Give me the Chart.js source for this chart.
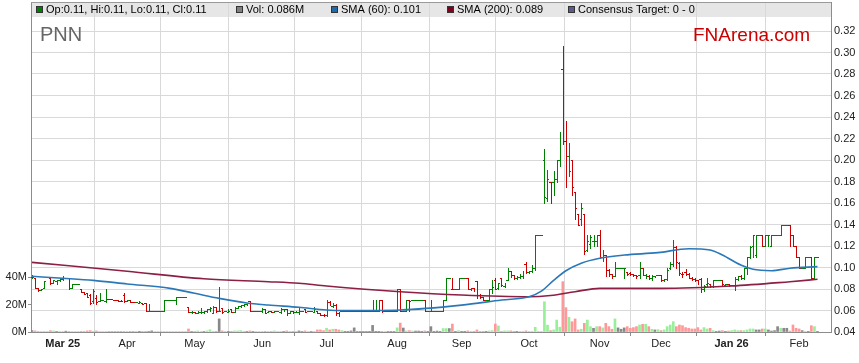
<!DOCTYPE html>
<html><head><meta charset="utf-8">
<script src="https://cdn.jsdelivr.net/npm/chart.js@4.4.1/dist/chart.umd.min.js"></script>
<style>html,body{margin:0;padding:0;background:#fff;}canvas{display:block;background:#fff;}</style>
</head><body>
<canvas id="c" width="859" height="363"></canvas>
<script>
// ---------- DATA ----------
const ticker = 'PNN';
const monthTickIdx = [10,31,53,75,96,119,140,162,185,205,228,250];
const monthTickLabels = ['Mar 25','Apr','May','Jun','Jul','Aug','Sep','Oct','Nov','Dec','Jan 26','Feb'];
const priceTicks = [0.04,0.06,0.08,0.10,0.12,0.14,0.16,0.18,0.20,0.22,0.24,0.26,0.28,0.30,0.32];
const volTicks = [0,20,40];

const open = [
.091,.090,.081,.079,.081,null,.090,.086,.087,.088,
.089,.090,.090,.081,.085,.085,.080,.077,.076,.074,
.069,.072,.069,.070,.069,.071,.0705,.070,.070,.069,
.074,.069,.070,.068,.068,.067,.067,.067,.060,.060,
.060,.060,.060,.060,.070,.070,.070,.070,.073,.073,
.073,.063,.059,.059,.058,.059,.059,.060,.061,.058,
.063,.060,.062,.060,.059,.061,.059,.062,.064,.065,
.066,.069,.060,.060,.060,.060,.061,.059,.060,.059,
.060,.059,.061,.061,.058,.060,.059,.059,.060,.061,
.060,.060,.059,.060,.058,.056,.056,.068,.064,.065,
.058,.060,.060,.060,.060,.060,.060,.060,.060,.060,
.060,.060,.060,.060,.070,.060,.060,.060,.060,.060,
.080,.060,.060,.070,.070,.070,.070,.070,.070,.060,
.060,.060,.060,.060,.060,.070,.090,.080,.080,.080,
.090,.090,.090,.080,.081,.087,.074,.073,.070,.070,
.080,.088,.081,.090,.083,.088,.097,.093,.090,.091,
.092,.103,.096,.097,.100,.130,.130,.200,.165,.180,
.180,.182,.200,.285,.218,.204,.200,.170,.150,.145,
.150,.116,.122,.125,.125,.130,.110,.112,.098,.094,
.092,.100,.100,.100,.096,.095,.094,.093,.093,.100,
.093,.092,.090,.092,.093,.093,.088,.089,.100,.103,
.119,.104,.094,.096,.094,.090,.089,.088,.089,.080,
.085,.085,.083,.088,.088,.088,.084,.085,.084,.084,
.089,.092,.090,.100,.110,.120,.112,.130,.130,.120,
.130,.120,.130,.130,.130,.140,.140,.140,.130,.120,
.110,.100,.100,.110,.110,.090,.110];
const high = [
.093,.090,.081,.080,.087,null,.090,.088,.088,.090,
.092,.090,.090,.085,.085,.085,.080,.077,.076,.075,
.080,.074,.076,.070,.080,.071,.0705,.070,.070,.070,
.076,.070,.070,.068,.068,.069,.067,.067,.066,.060,
.060,.060,.060,.070,.070,.070,.070,.073,.073,.073,
.073,.063,.060,.059,.060,.062,.060,.061,.063,.064,
.063,.082,.062,.060,.061,.061,.063,.064,.065,.066,
.066,.069,.060,.060,.060,.062,.061,.060,.060,.060,
.060,.062,.061,.061,.060,.060,.060,.062,.060,.061,
.060,.060,.063,.060,.058,.057,.070,.069,.067,.066,
.059,.060,.060,.060,.060,.060,.060,.060,.060,.060,
.060,.070,.070,.070,.070,.060,.060,.060,.060,.080,
.080,.060,.070,.070,.070,.070,.070,.070,.070,.060,
.070,.060,.060,.060,.070,.090,.090,.090,.080,.090,
.090,.090,.090,.081,.081,.087,.075,.073,.070,.080,
.088,.090,.086,.090,.086,.100,.097,.093,.092,.094,
.097,.105,.097,.102,.130,.130,.130,.210,.191,.180,
.190,.200,.226,.306,.236,.216,.200,.170,.150,.160,
.150,.130,.130,.130,.130,.135,.116,.112,.099,.094,
.105,.100,.100,.100,.096,.096,.094,.093,.105,.100,
.094,.093,.093,.092,.093,.093,.089,.100,.105,.126,
.120,.105,.096,.099,.095,.091,.090,.088,.090,.084,
.090,.085,.088,.088,.088,.088,.085,.085,.084,.091,
.092,.093,.100,.110,.120,.130,.130,.130,.130,.130,
.130,.130,.130,.130,.140,.140,.140,.140,.130,.120,
.110,.100,.110,.110,.110,.110,.110];
const low = [
.090,.081,.078,.079,.081,null,.085,.086,.085,.087,
.088,.090,.080,.081,.085,.085,.077,.075,.073,.066,
.067,.066,.069,.070,.068,.071,.0705,.070,.069,.069,
.068,.069,.068,.0675,.068,.067,.066,.060,.060,.060,
.060,.060,.060,.060,.070,.070,.070,.066,.073,.073,
.073,.059,.058,.058,.058,.058,.058,.059,.060,.058,
.059,.060,.058,.060,.059,.059,.059,.062,.063,.064,
.065,.060,.060,.060,.060,.059,.058,.059,.059,.059,
.060,.058,.060,.056,.058,.058,.059,.057,.060,.059,
.060,.060,.059,.058,.056,.055,.055,.065,.063,.056,
.055,.060,.060,.060,.060,.060,.060,.060,.060,.060,
.060,.060,.060,.060,.059,.060,.060,.060,.060,.060,
.060,.060,.060,.060,.070,.070,.070,.070,.060,.060,
.060,.060,.060,.060,.060,.070,.090,.080,.080,.080,
.090,.090,.080,.079,.078,.072,.072,.070,.070,.070,
.076,.080,.080,.083,.082,.088,.091,.089,.089,.090,
.090,.095,.095,.096,.098,.130,.130,.160,.162,.160,
.167,.180,.194,.215,.175,.185,.167,.145,.140,.140,
.113,.115,.118,.120,.120,.109,.106,.092,.092,.090,
.092,.100,.100,.090,.093,.093,.092,.090,.090,.093,
.090,.089,.088,.091,.093,.087,.087,.088,.099,.101,
.100,.093,.091,.093,.090,.088,.087,.085,.077,.078,
.083,.082,.082,.088,.088,.083,.083,.083,.084,.079,
.088,.089,.089,.094,.109,.110,.110,.130,.120,.120,
.120,.120,.130,.130,.130,.140,.140,.120,.120,.110,
.100,.100,.100,.110,.090,.090,.110];
const close = [
.091,.081,.079,.080,.087,null,.086,.088,.088,.089,
.090,.090,.081,.085,.085,.085,.077,.075,.073,.067,
.078,.068,.070,.070,.079,.071,.0705,.070,.0695,.069,
.0685,.070,.068,.0675,.068,.068,.066,.060,.060,.060,
.060,.060,.060,.070,.070,.070,.070,.073,.073,.073,
.073,.059,.059,.058,.059,.060,.060,.061,.062,.063,
.060,.060,.059,.060,.060,.059,.062,.064,.065,.066,
.066,.060,.060,.060,.060,.061,.058,.060,.059,.060,
.060,.061,.061,.057,.060,.059,.060,.060,.060,.059,
.060,.060,.061,.058,.056,.055,.069,.065,.066,.057,
.055,.060,.060,.060,.060,.060,.060,.060,.060,.060,
.060,.060,.060,.060,.0595,.060,.060,.060,.060,.080,
.060,.060,.070,.069,.070,.070,.070,.070,.060,.060,
.060,.060,.060,.060,.070,.090,.090,.080,.080,.090,
.090,.090,.080,.081,.078,.073,.0725,.070,.070,.080,
.082,.080,.086,.084,.085,.098,.094,.091,.091,.093,
.097,.096,.097,.100,.130,.130,.130,.166,.182,.166,
.182,.193,.226,.215,.180,.190,.175,.155,.140,.155,
.115,.125,.128,.128,.129,.110,.115,.095,.093,.0905,
.100,.100,.100,.100,.094,.0935,.093,.092,.094,.093,
.094,.090,.092,.092,.093,.088,.089,.098,.103,.119,
.105,.095,.094,.0935,.091,.089,.088,.086,.080,.083,
.086,.083,.088,.088,.088,.085,.085,.0835,.084,.088,
.091,.0905,.098,.108,.119,.130,.130,.130,.120,.130,
.130,.130,.130,.130,.140,.140,.140,.130,.120,.110,
.100,.100,.110,.110,.090,.110,.110];
// volume in millions of shares
const volume = [
1.0,0.8,0.4,0.3,0.5,0,1.0,0.8,0.3,0.3,
0.4,0.6,0.3,0.3,0,0,0.5,0.4,0.8,1.0,
0.6,0.8,0.3,0,0.3,0.2,0.2,0.2,0.2,0.2,
0.3,0.2,0.2,0.2,0.2,0.2,0.3,0.5,0.3,0.8,
0,0,0,0.3,0,0,0,0.3,0,0,
0,2.2,0.4,0.3,0.8,0.3,0.3,0.8,1.6,0.5,
0.5,9.5,0.8,0.5,0.5,0.5,0.8,0.8,1.0,0.5,
0.3,0.8,0.3,0,0,0.5,0.5,0.3,0.3,0.8,
0,0.5,0.3,0.8,0.5,0.5,0.5,0.8,0.3,0.8,
0.3,0.3,0.5,1.5,1.5,1.0,2.7,1.5,2.0,2.0,
1.5,1.0,0.5,0.5,0.8,3.0,0.3,0.3,0.3,0.3,
0.5,4.8,0.5,0.5,0.5,0.3,0.3,0.3,0.3,3.0,
6.5,2.9,0.8,1.0,0.7,0.7,0.7,0.5,0.8,0.5,
3.9,0.5,0.7,0.5,2.5,2.5,2.5,5.8,0.5,1.0,
0.5,0.5,0.8,0.5,0.5,1.5,0.5,0.5,0.5,0.8,
1.0,5.8,4.4,0.5,0.8,0.8,0.8,0.5,0.5,0.5,
0.5,0.8,0.5,0.5,3.4,0,0,22,5,1,
1.5,8.7,3.5,36.6,17.7,10.7,7.5,9.5,1.5,2,
6.3,8.7,3.9,2.7,3.9,3.9,3.0,6.3,3.9,2,
9.5,3,2,3,3.9,2.7,3.2,3.9,5.1,5.6,
5.6,3.9,2,1.5,1.7,1.0,1.5,3.9,5.1,7.5,
3.9,5.1,4.6,3.2,2.7,2.2,2.2,3.2,1.5,3.2,
2.2,2.7,1.0,0.2,0.7,1.0,0.5,0.7,1.0,1.5,
1.0,1.0,1.0,1.5,2.2,2.2,1.5,1.5,2.2,2.2,
1.5,0.7,1.0,3.9,2.7,2.7,2.7,0.7,5.1,2.7,
2.2,1.0,0.2,0.2,4.6,3.9,0.086];

// moving averages (bar index, value)
const sma60Idx = [0,10,20,31,45,53,61,70,77,87,96,102,120,140,153,162,166,170,174,179,185,193,204,214,221,225,231,235,241,247,256];
const sma60Val = [.0918,.0900,.0880,.0847,.0806,.0760,.0713,.0670,.0651,.0630,.0605,.0600,.0605,.0650,.0698,.0728,.0780,.0880,.0970,.1040,.1086,.1116,.1138,.1175,.1163,.1116,.1023,.0983,.0970,.0993,.1008];
const sma200Idx = [0,31,56,77,87,96,120,140,162,169,177,185,205,228,247,256];
const sma200Val = [.1048,.0965,.0895,.0868,.0853,.0828,.0775,.0744,.0728,.0740,.0775,.0806,.0806,.0828,.0868,.0890];

// ---------- STYLE ----------
const FONT = "'Liberation Sans', Arial, sans-serif";
const UP = '#008000', DOWN = '#cc0000';
const VOL_UP = '#99ee99', VOL_DOWN = '#ff9999', VOL_FLAT = '#888888';
const C_SMA60 = '#2a78b8', C_SMA200 = '#8c1f44';
const AXIS = '#8c8c8c', GRID = '#d9d9d9';

const N = close.length;
const dir = [];
{ let prev = null;
  for (let i = 0; i < N; i++) {
    if (close[i] == null) { dir.push(null); continue; }
    let d = 0;
    if (prev != null) d = close[i] > prev + 1e-9 ? 1 : (close[i] < prev - 1e-9 ? -1 : 0);
    dir.push(d); prev = close[i];
  }
}
const volColors = dir.map(d => d > 0 ? VOL_UP : d < 0 ? VOL_DOWN : VOL_FLAT);

const ohlcPlugin = {
  id: 'ohlc',
  beforeDatasetsDraw(chart) {
    const { ctx, chartArea: a } = chart;
    const x = chart.scales.x, y = chart.scales.y;
    ctx.save();
    ctx.beginPath(); ctx.rect(a.left, a.top, a.right - a.left, a.bottom - a.top); ctx.clip();
    for (let i = 0; i < N; i++) {
      if (close[i] == null) continue;
      const cx = Math.round(x.getPixelForValue(i));
      const L = Math.round(x.getPixelForValue(i - 0.5));
      const R = Math.round(x.getPixelForValue(i + 0.5));
      const yh = Math.round(y.getPixelForValue(high[i]));
      const yl = Math.round(y.getPixelForValue(low[i]));
      const yo = Math.round(y.getPixelForValue(open[i]));
      const yc = Math.round(y.getPixelForValue(close[i]));
      ctx.fillStyle = dir[i] < 0 ? DOWN : UP;
      ctx.fillRect(cx, yh, 1, Math.max(1, yl - yh + 1));
      if (cx - L > 0) ctx.fillRect(L, yo, cx - L, 1);
      if (R - cx - 1 > 0) ctx.fillRect(cx + 1, yc, R - cx - 1, 1);
    }
    ctx.restore();
  }
};

const legendBoxPlugin = {
  id: 'legendBox',
  beforeDraw(chart) {
    const { ctx, chartArea: a } = chart;
    ctx.save();
    ctx.fillStyle = '#e6e6e6';
    ctx.fillRect(a.left, a.top, a.right - a.left, 15);
    ctx.restore();
  },
  afterDraw(chart) {
    const { ctx, chartArea: a } = chart;
    ctx.save();
    ctx.fillStyle = '#9a9a9a';
    ctx.fillRect(a.left, a.top, a.right - a.left, 1);
    const last = N - 1;
    const items = [
      { x: 36, c: UP, t: `Op:${open[last].toFixed(2)}, Hi:${high[last].toFixed(2)}, Lo:${low[last].toFixed(2)}, Cl:${close[last].toFixed(2)}` },
      { x: 236, c: '#808080', t: `Vol: ${volume[last].toFixed(3)}M` },
      { x: 331, c: '#1f6aa8', t: `SMA (60): ${sma60Val[sma60Val.length - 1].toFixed(3)}` },
      { x: 447, c: '#800020', t: `SMA (200): ${sma200Val[sma200Val.length - 1].toFixed(3)}` },
      { x: 568, c: '#5c5c8a', t: 'Consensus Target: 0 - 0' }
    ];
    ctx.font = `11px ${FONT}`;
    ctx.textBaseline = 'middle';
    for (const it of items) {
      ctx.fillStyle = '#333';
      ctx.fillRect(it.x, a.top + 4, 7, 7);
      ctx.fillStyle = it.c;
      ctx.fillRect(it.x + 1, a.top + 5, 5, 5);
      ctx.fillStyle = '#000';
      ctx.fillText(it.t, it.x + 10, a.top + 8);
    }
    ctx.textBaseline = 'alphabetic';
    ctx.font = `20px ${FONT}`;
    ctx.fillStyle = '#666';
    ctx.fillText(ticker, 40, 41);
    ctx.font = `19px ${FONT}`;
    ctx.fillStyle = '#cc0000';
    ctx.fillText('FNArena.com', 693, 41);
    ctx.restore();
  }
};

const noPadV = s => { s.paddingTop = 0; s.paddingBottom = 0; };

new Chart(document.getElementById('c'), {
  type: 'bar',
  data: {
    datasets: [
      { type: 'line', label: 'SMA (60)', data: sma60Idx.map((v, k) => ({ x: v, y: sma60Val[k] })),
        yAxisID: 'y', borderColor: C_SMA60, borderWidth: 1.6, pointRadius: 0, cubicInterpolationMode: 'monotone', order: 1 },
      { type: 'line', label: 'SMA (200)', data: sma200Idx.map((v, k) => ({ x: v, y: sma200Val[k] })),
        yAxisID: 'y', borderColor: C_SMA200, borderWidth: 1.6, pointRadius: 0, cubicInterpolationMode: 'monotone', order: 2 },
      { type: 'bar', label: 'Vol', data: volume.map((v, i) => ({ x: i, y: v })), yAxisID: 'y2',
        backgroundColor: volColors, barThickness: 2, order: 3 }
    ]
  },
  options: {
    responsive: false, animation: false, events: [], devicePixelRatio: 1,
    layout: { padding: { top: 2, left: 0, right: 0, bottom: 0 } },
    plugins: { legend: { display: false }, tooltip: { enabled: false } },
    scales: {
      x: {
        type: 'linear', min: -0.33, max: 260.4, offset: false,
        afterBuildTicks: s => { s.ticks = monthTickIdx.map(v => ({ value: v })); },
        afterFit: s => { s.height = 31; s.paddingLeft = 0; s.paddingRight = 0; },
        grid: { color: GRID, tickLength: 4, tickColor: AXIS },
        border: { color: AXIS },
        ticks: {
          autoSkip: false, maxRotation: 0, padding: 1, color: '#222',
          callback: v => monthTickLabels[monthTickIdx.indexOf(v)],
          font: c => ({ family: FONT, size: 11, weight: (c.tick && /\d/.test(c.tick.label)) ? 'bold' : 'normal' })
        }
      },
      y: {
        position: 'right', min: 0.04, max: 0.04 + 330 / 1075,
        afterBuildTicks: s => { s.ticks = priceTicks.map(v => ({ value: v })); },
        afterFit: s => { s.width = 28; noPadV(s); },
        grid: { color: GRID, drawTicks: false },
        border: { color: AXIS },
        ticks: { padding: 3, color: '#222', font: { family: FONT, size: 11 }, callback: v => v.toFixed(2) }
      },
      y2: {
        position: 'left', min: 0, max: 240,
        afterBuildTicks: s => { s.ticks = volTicks.map(v => ({ value: v })); },
        afterFit: s => { s.width = 31; noPadV(s); },
        grid: { drawOnChartArea: false, tickLength: 3, color: AXIS },
        border: { color: AXIS },
        ticks: { padding: 1, color: '#222', font: { family: FONT, size: 11 }, callback: v => v + 'M' }
      }
    }
  },
  plugins: [legendBoxPlugin, ohlcPlugin]
});
</script>
</body></html>
